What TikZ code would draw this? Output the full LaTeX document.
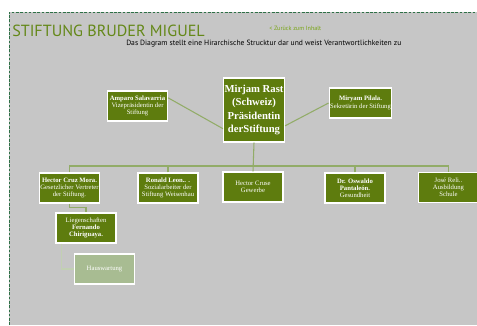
\documentclass[tikz,border=0pt]{standalone}
\usepackage{fontspec}
\setmainfont{Liberation Serif}
\newfontfamily\titlefont{PT Sans}
\usepackage{tikz}

\definecolor{boxgreen}{RGB}{94,124,14}
\definecolor{palegreen}{RGB}{168,188,146}
\definecolor{pagegrey}{RGB}{198,198,198}
\definecolor{titlegreen}{RGB}{100,136,24}
\definecolor{linkgreen}{RGB}{120,165,20}
\definecolor{linegreen}{RGB}{146,172,104}
\definecolor{framegreen}{RGB}{46,112,70}

\tikzset{
  orgbox/.style={draw=white, line width=0.9pt, fill=boxgreen, text=white, align=center,
    inner sep=0.75pt, minimum width=45pt, minimum height=22.5pt, font=\fontsize{5}{5.4}\selectfont},
  chart/.style={draw=linegreen, line width=0.8pt},
}

\begin{document}
\begin{tikzpicture}[x=0.75pt,y=0.75pt,yscale=-1,xscale=1]
        \useasboundingbox (0,0) rectangle (477,325);
        
        %Shape: Page background
        \fill[pagegrey] (9,12) rectangle (477,325);
        \draw[framegreen, dashed, line width=0.6pt, dash pattern=on 2pt off 1.2pt] (9,325) -- (9,12) -- (477,12);
        
        % Text Node
        \draw (11,31) node [anchor=west] [inner sep=0.75pt, text=titlegreen] (title) {\titlefont\fontsize{12.1}{13}\selectfont STIFTUNG BRUDER MIGUEL};
        % Text Node
        \draw (268,28) node [anchor=west] [inner sep=0.75pt, text=linkgreen] (back) {\titlefont\fontsize{4.6}{5}\selectfont < Zurück zum Inhalt};
        % Text Node
        \draw (125,44) node [anchor=west] [inner sep=0.75pt] (subtitle) {\titlefont\fontsize{5.7}{6}\selectfont Das Diagram stellt eine Hirarchische Strucktur dar und weist Verantwortlichkeiten zu};
        
        %Shape: Top row
        \draw (254,110) node [orgbox, minimum height=48pt, font=\bfseries\fontsize{8}{10}\selectfont] (rast) {Mirjam Rast\\(Schweiz)\\Präsidentin\\derStiftung};
        \draw (137.5,106) node [orgbox] (amparo) {\textbf{Amparo Salavarria}\\Vizepräsidentin der\\Stiftung};
        \draw (360.5,103) node [orgbox] (pilala) {\textbf{Miryam Pilala.}\\Sekretärin der Stiftung};
        
        %Shape: Second row
        \draw (69.5,188) node [orgbox] (mora) {\textbf{Hector Cruz Mora.}\\Gesetzlicher Vertreter\\der Stiftung.};
        \draw (168,188) node [orgbox] (leon) {\textbf{Ronald Leon.. .}\\Sozialarbeiter der\\Stiftung Weisenhau};
        \draw (253,187) node [orgbox] (cruse) {Hector Cruse\\Gewerbe};
        \draw (355,188) node [orgbox] (pantaleon) {\textbf{Dr. Oswaldo}\\\textbf{Pantaleón.}\\Gesundheit};
        \draw (448.5,187.5) node [orgbox] (reli) {José Reli..\\Ausbildung\\Schule};
        
        %Shape: Lower rows
        \draw (86,228) node [orgbox] (chiriguaya) {Liegenschaften\\\textbf{Fernando}\\\textbf{Chiriguaya.}};
        \draw (104.5,269) node [orgbox, fill=palegreen] (hauswartung) {Hauswartung};
        
        %Connectors
        \coordinate (bus) at (253,166);
        \draw[chart] (amparo.15) -- (rast.211);
        \draw[chart] (rast.-27) -- (pilala.west);
        \draw[chart] (rast.south) -- (cruse.north);
        \draw[chart] (mora.north) |- (bus) -| (reli.north);
        \draw[chart] (leon.north) -- (leon.north |- bus);
        \draw[chart] (pantaleon.north) -- (pantaleon.north |- bus);
        \draw[chart] (mora.south) -- ++(0,4) -| (chiriguaya.north);
        \draw[draw=palegreen!70!white, line width=0.8pt] (chiriguaya.south west) ++(6,0) |- (hauswartung.west);
        
        \end{tikzpicture}
\end{document}
